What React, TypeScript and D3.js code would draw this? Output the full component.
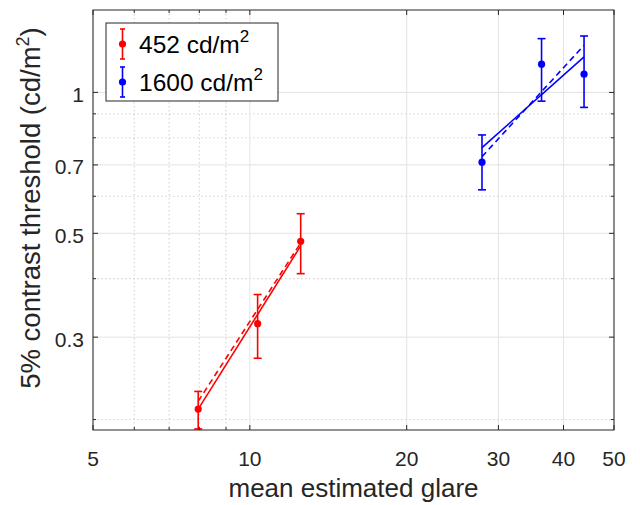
import React from "react";
import * as d3 from "d3";

const xTicks = [5, 10, 20, 30, 40, 50];
const xMinor = [6, 7, 8, 9];
const yTicks = [0.3, 0.5, 0.7, 1];
const yMinor = [0.2, 0.4, 0.6, 0.8, 0.9];

const redX = [7.96, 10.35, 12.52];
const redY = [0.2106, 0.3205, 0.4806];
const redLo = [0.191, 0.2704, 0.41];
const redHi = [0.2297, 0.37, 0.5506];
const redFitX = [7.96, 12.52];
const redFitY = [0.2106, 0.47];
const redFit2Y = [0.2189, 0.477];

const blueX = [27.9, 36.3, 43.8];
const blueY = [0.7094, 1.149, 1.094];
const blueLo = [0.6193, 0.958, 0.929];
const blueHi = [0.8112, 1.303, 1.32];
const blueFitX = [27.9, 43.8];
const blueFitY = [0.762, 1.191];
const blueFit2Y = [0.729, 1.261];

const legendLabels = ["452 cd/m", "1600 cd/m"];

const W = 640, H = 505;
const L = 93, R = 614, T = 10, B = 430;
const axisColor = "#262626";
const font = "'Liberation Sans', Arial, sans-serif";

export default function App() {
  const x = d3.scaleLog().domain([5, 50]).range([L, R]);
  const y = d3.scaleLog().domain([0.19, 1.5]).range([B, T]);
  const line = d3
    .line<[number, number]>()
    .x((d) => x(d[0]))
    .y((d) => y(d[1]));

  const series = [
    { color: "#ff0000", xs: redX, ys: redY, lo: redLo, hi: redHi, fx: redFitX, fy: redFitY, fy2: redFit2Y },
    { color: "#0000ff", xs: blueX, ys: blueY, lo: blueLo, hi: blueHi, fx: blueFitX, fy: blueFitY, fy2: blueFit2Y },
  ];
  const capW = 4;
  const tickLen = 5;

  return (
    <div style={{ position: "absolute", left: 0, top: 0 }}>
      <svg width={W} height={H} style={{ display: "block", background: "#fff" }} fontFamily={font}>
        <rect x={L} y={T} width={R - L} height={B - T} fill="#fff" />
        <defs>
          <clipPath id="plot">
            <rect x={L} y={T} width={R - L} height={B - T} />
          </clipPath>
        </defs>
        {/* minor grid */}
        {xMinor.map((v) => (
          <line key={"xm" + v} x1={x(v)} x2={x(v)} y1={T} y2={B} stroke="#cfcfcf" strokeDasharray="1.5 2.5" strokeWidth={1} />
        ))}
        {yMinor.map((v) => (
          <line key={"ym" + v} x1={L} x2={R} y1={y(v)} y2={y(v)} stroke="#cfcfcf" strokeDasharray="1.5 2.5" strokeWidth={1} />
        ))}
        {/* major grid */}
        {xTicks.map((v) => (
          <line key={"xg" + v} x1={x(v)} x2={x(v)} y1={T} y2={B} stroke="#e3e3e3" strokeWidth={1} />
        ))}
        {yTicks.map((v) => (
          <line key={"yg" + v} x1={L} x2={R} y1={y(v)} y2={y(v)} stroke="#e3e3e3" strokeWidth={1} />
        ))}

        {/* data */}
        <g clipPath="url(#plot)">
          {series.map((s, si) => (
            <g key={si} stroke={s.color} fill={s.color}>
              <path d={line(s.fx.map((v, i) => [v, s.fy[i]]) as [number, number][]) || ""} fill="none" strokeWidth={1.6} />
              <path d={line(s.fx.map((v, i) => [v, s.fy2[i]]) as [number, number][]) || ""} fill="none" strokeWidth={1.6} strokeDasharray="6 4" />
              {s.xs.map((v, i) => (
                <g key={i}>
                  <line x1={x(v)} x2={x(v)} y1={y(s.lo[i])} y2={y(s.hi[i])} strokeWidth={1.6} />
                  <line x1={x(v) - capW} x2={x(v) + capW} y1={y(s.lo[i])} y2={y(s.lo[i])} strokeWidth={1.6} />
                  <line x1={x(v) - capW} x2={x(v) + capW} y1={y(s.hi[i])} y2={y(s.hi[i])} strokeWidth={1.6} />
                  <circle cx={x(v)} cy={y(s.ys[i])} r={3.6} stroke="none" />
                </g>
              ))}
            </g>
          ))}
        </g>

        {/* ticks */}
        <g stroke={axisColor} strokeWidth={1}>
          {xTicks.map((v) => (
            <g key={"xt" + v}>
              <line x1={x(v)} x2={x(v)} y1={B} y2={B - tickLen} />
              <line x1={x(v)} x2={x(v)} y1={T} y2={T + tickLen} />
            </g>
          ))}
          {xMinor.map((v) => (
            <g key={"xmt" + v}>
              <line x1={x(v)} x2={x(v)} y1={B} y2={B - 3} />
              <line x1={x(v)} x2={x(v)} y1={T} y2={T + 3} />
            </g>
          ))}
          {yTicks.map((v) => (
            <g key={"yt" + v}>
              <line x1={L} x2={L + tickLen} y1={y(v)} y2={y(v)} />
              <line x1={R} x2={R - tickLen} y1={y(v)} y2={y(v)} />
            </g>
          ))}
          {yMinor.map((v) => (
            <g key={"ymt" + v}>
              <line x1={L} x2={L + 3} y1={y(v)} y2={y(v)} />
              <line x1={R} x2={R - 3} y1={y(v)} y2={y(v)} />
            </g>
          ))}
        </g>
        <rect x={L} y={T} width={R - L} height={B - T} fill="none" stroke={axisColor} strokeWidth={1} />

        {/* tick labels */}
        <g fill={axisColor} fontSize={21}>
          {xTicks.map((v) => (
            <text key={"xl" + v} x={x(v)} y={466} textAnchor="middle">
              {v}
            </text>
          ))}
          {yTicks.map((v) => (
            <text key={"yl" + v} x={84} y={y(v) + 9.5} textAnchor="end">
              {v}
            </text>
          ))}
        </g>

        {/* axis titles */}
        <text x={(L + R) / 2} y={497} textAnchor="middle" fontSize={26} fill={axisColor}>
          mean estimated glare
        </text>
        <text transform={`translate(40, 208) rotate(-90)`} textAnchor="middle" fontSize={27.5} fill={axisColor}>
          5% contrast threshold (cd/m<tspan fontSize={18} dy={-11}>2</tspan>
          <tspan dy={11}>)</tspan>
        </text>

        {/* legend */}
        <g>
          <rect x={106} y={23} width={172} height={78} fill="#fff" stroke={axisColor} strokeWidth={1} />
          {legendLabels.map((label, i) => {
            const color = series[i].color;
            const cy = i === 0 ? 44 : 82;
            return (
              <g key={i}>
                <g stroke={color} strokeWidth={1.6}>
                  <line x1={122.5} x2={122.5} y1={cy - 15} y2={cy + 15} />
                  <line x1={120} x2={125} y1={cy - 15} y2={cy - 15} />
                  <line x1={120} x2={125} y1={cy + 15} y2={cy + 15} />
                </g>
                <circle cx={122.5} cy={cy} r={3.6} fill={color} />
                <text x={139} y={cy + 9} fontSize={24.5} fill="#000">
                  {label}
                  <tspan fontSize={17} dy={-11}>2</tspan>
                </text>
              </g>
            );
          })}
        </g>
      </svg>
    </div>
  );
}
